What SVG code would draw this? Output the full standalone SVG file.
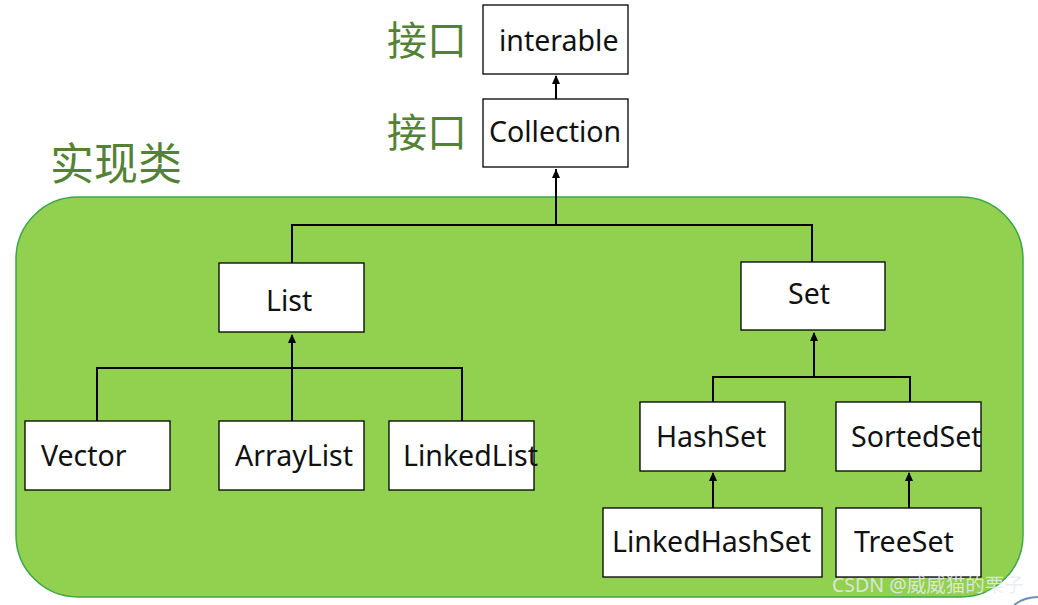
<svg xmlns="http://www.w3.org/2000/svg" width="1038" height="605" viewBox="0 0 1038 605">
<style>
.box{fill:#fff;stroke:#000;stroke-width:1.3}
.t{font-family:"Noto Sans","Open Sans",sans-serif;font-size:28.5px;fill:#111}
.cn{font-family:"Noto Sans CJK SC",sans-serif;fill:#548235}
.ln{fill:none;stroke:#000;stroke-width:2}
</style>
<rect width="1038" height="605" fill="#fff"/>
<rect id="impl-area" x="16" y="197" width="1007" height="400" rx="62" ry="62" fill="#92d050" stroke="#3aa64a" stroke-width="1.5"/>
<text class="cn" x="387" y="55" font-size="40">接口</text>
<text class="cn" x="387" y="147" font-size="40">接口</text>
<text class="cn" x="50" y="180" font-size="44">实现类</text>
<g id="connectors">
<path class="ln" d="M556,99 V76"/>
<path d="M552,84 L556,75 L560,84 Z"/>
<path class="ln" d="M556,225 V169"/>
<path d="M552,178 L556,169 L560,178 Z"/>
<path class="ln" d="M292,263 V225 H812 V262"/>
<path class="ln" d="M292,421 V335"/>
<path d="M288,343 L292,334 L296,343 Z"/>
<path class="ln" d="M97,421 V368 H462 V421"/>
<path class="ln" d="M814,377 V333"/>
<path d="M810,341 L814,332 L818,341 Z"/>
<path class="ln" d="M713,402 V377 H910 V402"/>
<path class="ln" d="M713,508 V473"/>
<path d="M709,481 L713,472 L717,481 Z"/>
<path class="ln" d="M909,508 V473"/>
<path d="M905,481 L909,472 L913,481 Z"/>
</g>
<g id="interable"><rect class="box" x="483" y="5" width="145" height="69"/><text class="t" x="499" y="51">interable</text></g>
<g id="collection"><rect class="box" x="483" y="99" width="145" height="68"/><text class="t" x="489" y="142">Collection</text></g>
<g id="list"><rect class="box" x="219" y="263" width="145" height="69"/><text class="t" x="266" y="311">List</text></g>
<g id="set"><rect class="box" x="741" y="262" width="144" height="68"/><text class="t" x="788" y="304">Set</text></g>
<g id="vector"><rect class="box" x="25" y="421" width="145" height="69"/><text class="t" x="41" y="466">Vector</text></g>
<g id="arraylist"><rect class="box" x="219" y="421" width="145" height="69"/><text class="t" x="235" y="466">ArrayList</text></g>
<g id="linkedlist"><rect class="box" x="389" y="421" width="145" height="69"/><text class="t" x="403" y="466">LinkedList</text></g>
<g id="hashset"><rect class="box" x="640" y="402" width="145" height="69"/><text class="t" x="656" y="447">HashSet</text></g>
<g id="sortedset"><rect class="box" x="836" y="402" width="145" height="69"/><text class="t" x="851" y="447">SortedSet</text></g>
<g id="linkedhashset"><rect class="box" x="603" y="508" width="219" height="69"/><text class="t" x="612" y="552">LinkedHashSet</text></g>
<g id="treeset"><rect class="box" x="836" y="508" width="145" height="69"/><text class="t" x="854" y="552">TreeSet</text></g>
<text x="832" y="592" font-family="'Noto Sans','Noto Sans CJK SC',sans-serif" font-size="19.5" fill="#e8ecef" fill-opacity="0.85">CSDN @威威猫的栗子</text>
<path d="M1014,605 A40,40 0 0 1 1038,597" fill="none" stroke="#6b8fb5" stroke-width="2"/>
</svg>
